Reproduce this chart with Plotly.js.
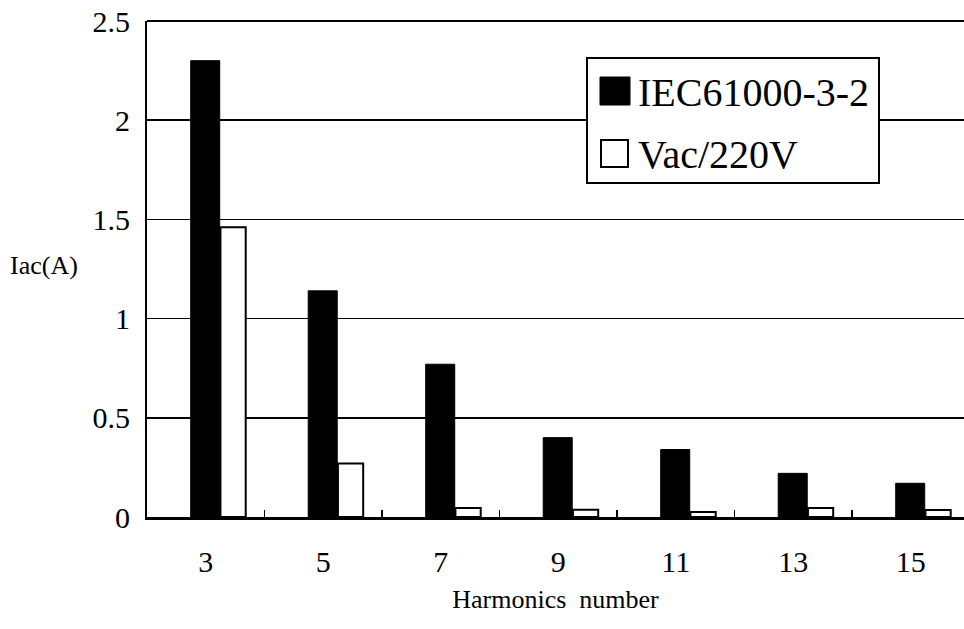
<!DOCTYPE html>
<html>
<head>
<meta charset="utf-8">
<script src="https://cdn.plot.ly/plotly-3.0.1.min.js"></script>
<style>
  html, body { margin: 0; padding: 0; background: #fff; }
  #chart { width: 964px; height: 629px; }
</style>
</head>
<body>
<div id="chart"></div>
<script>
// ---- data ----
const categories = ['3', '5', '7', '9', '11', '13', '15'];
const iecLimit = [2.30, 1.14, 0.77, 0.40, 0.34, 0.22, 0.17];
const vac220 = [1.46, 0.27, 0.045, 0.037, 0.025, 0.045, 0.035];
const seriesNames = ['IEC61000-3-2', 'Vac/220V'];
const yTickVals = [0, 0.5, 1, 1.5, 2, 2.5];
const yTickText = ['0', '0.5', '1', '1.5', '2', '2.5'];
const xTitle = 'Harmonics\u00a0 number';
const yTitle = 'Iac(A)';

// ---- layout helpers (pixel -> paper) ----
const W = 964, H = 629;
const M = { l: 147, r: 0, t: 21, b: 112 };
const PW = W - M.l - M.r, PH = H - M.t - M.b;
const px = x => (x - M.l) / PW;
const py = y => (H - M.b - y) / PH;
const FONT = '"Liberation Serif", serif';

const traces = [
  {
    type: 'bar', name: seriesNames[0], x: categories, y: iecLimit,
    offset: -0.128, width: 0.247,
    marker: { color: '#000', line: { color: '#000', width: 1 } },
    showlegend: false, hoverinfo: 'x+y'
  },
  {
    type: 'bar', name: seriesNames[1], x: categories, y: vac220,
    offset: 0.125, width: 0.215,
    marker: { color: '#fff', line: { color: '#000', width: 2 } },
    showlegend: false, hoverinfo: 'x+y'
  }
];

const layout = {
  width: W, height: H,
  margin: M,
  paper_bgcolor: '#fff', plot_bgcolor: '#fff',
  font: { family: FONT, color: '#000' },
  showlegend: false,
  xaxis: {
    type: 'category',
    range: [-0.5, -0.5 + PW / 117.5],
    tickson: 'boundaries',
    ticks: 'inside', ticklen: 7, tickwidth: 1.5, tickcolor: '#000',
    showline: true, linecolor: '#000', linewidth: 2.5,
    showgrid: false, zeroline: false,
    tickfont: { family: FONT, size: 30, color: '#000' },
    ticklabelstandoff: 16,
    title: { text: xTitle, font: { family: FONT, size: 26, color: '#000' }, standoff: 14 }
  },
  yaxis: {
    range: [0, 2.5],
    tickmode: 'array', tickvals: yTickVals, ticktext: yTickText,
    ticks: '', showline: true, linecolor: '#000', linewidth: 2,
    showgrid: true, gridcolor: '#000', gridwidth: 1.5,
    zeroline: false,
    tickfont: { family: FONT, size: 30, color: '#000' },
    ticklabelstandoff: 9
  },
  shapes: [
    { type: 'line', xref: 'paper', yref: 'paper', x0: 0, x1: 1, y0: 1, y1: 1,
      line: { color: '#000', width: 2 } },
    // legend box
    { type: 'rect', xref: 'paper', yref: 'paper', layer: 'above',
      x0: px(587), x1: px(879), y0: py(183), y1: py(58),
      fillcolor: '#fff', line: { color: '#000', width: 2 } },
    { type: 'rect', xref: 'paper', yref: 'paper', layer: 'above',
      x0: px(600), x1: px(630), y0: py(105), y1: py(77),
      fillcolor: '#000', line: { color: '#000', width: 1 } },
    { type: 'rect', xref: 'paper', yref: 'paper', layer: 'above',
      x0: px(601), x1: px(628), y0: py(167), y1: py(140),
      fillcolor: '#fff', line: { color: '#000', width: 2 } }
  ],
  annotations: [
    { xref: 'paper', yref: 'paper', x: px(636), y: py(93), xanchor: 'left', yanchor: 'middle',
      text: seriesNames[0], showarrow: false, font: { family: FONT, size: 40, color: '#000' } },
    { xref: 'paper', yref: 'paper', x: px(636), y: py(154), xanchor: 'left', yanchor: 'middle',
      text: seriesNames[1], showarrow: false, font: { family: FONT, size: 40, color: '#000' } },
    { xref: 'paper', yref: 'paper', x: px(44), y: py(265), xanchor: 'center', yanchor: 'middle',
      text: yTitle, showarrow: false, font: { family: FONT, size: 26, color: '#000' } }
  ]
};

Plotly.newPlot('chart', traces, layout, { staticPlot: true, displayModeBar: false });
</script>
</body>
</html>
